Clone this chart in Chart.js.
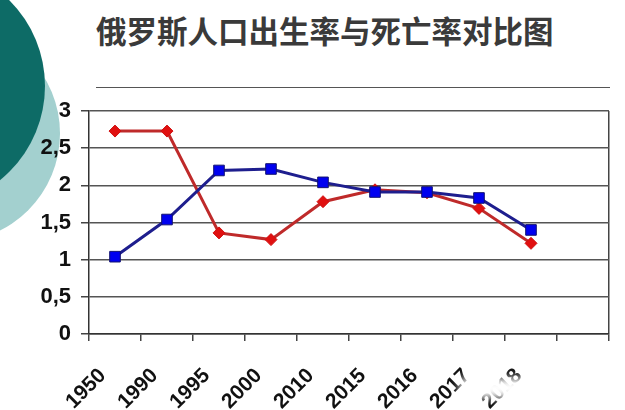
<!DOCTYPE html>
<html>
<head>
<meta charset="utf-8">
<script src="https://cdn.jsdelivr.net/npm/chart.js@4"></script>
<style>
  html, body { margin: 0; padding: 0; background: #fff; }
  #wrap { position: relative; width: 625px; height: 410px; overflow: hidden; }
  .circle { position: absolute; border-radius: 50%; }
  #light { left: -157px; top: 25px; width: 217px; height: 217px; background: #a3d0cf; }
  #dark { left: -197px; top: -35px; width: 242px; height: 242px; background: #0d6b66; }
  #title { position: absolute; left: 96px; top: 15px; font: bold 30.5px "Noto Sans CJK SC"; line-height: 1; color: #3a3a3a; white-space: nowrap; }
  #rule { position: absolute; left: 96px; top: 87px; width: 514px; height: 0; border-top: 1.5px solid #555; }
  #chart { position: absolute; left: 0; top: 0; }
  #mark { position: absolute; left: 460px; top: 378px; width: 68px; height: 20px; background: #fff; filter: blur(4px); }
</style>
</head>
<body>
<div id="wrap">
  <div class="circle" id="light"></div>
  <div class="circle" id="dark"></div>
  <div id="title">俄罗斯人口出生率与死亡率对比图</div>
  <div id="rule"></div>
  <canvas id="chart" width="625" height="410"></canvas>
  <div id="mark"></div>
</div>
<script>
const years = ["1950", "1990", "1995", "2000", "2010", "2015", "2016", "2017", "2018", ""];
const birthRate = [2.73, 2.73, 1.36, 1.27, 1.78, 1.94, 1.90, 1.69, 1.22];
const deathRate = [1.04, 1.54, 2.20, 2.22, 2.04, 1.91, 1.91, 1.83, 1.40];

const tickFont = { family: '"Liberation Sans", Arial, sans-serif', weight: "bold" };

new Chart(document.getElementById("chart"), {
  type: "line",
  data: {
    labels: years,
    datasets: [
      {
        label: "死亡率",
        data: deathRate,
        borderColor: "#1e1e8e",
        borderWidth: 3,
        pointStyle: "rect",
        pointRadius: 7.5,
        pointBackgroundColor: "#0000f0",
        pointBorderColor: "#121270",
        pointBorderWidth: 1,
        tension: 0
      },
      {
        label: "出生率",
        data: birthRate,
        borderColor: "#bf2a2a",
        borderWidth: 3,
        pointStyle: "rectRot",
        pointRadius: 6,
        pointBackgroundColor: "#e01010",
        pointBorderColor: "#d01010",
        pointBorderWidth: 1,
        tension: 0
      }
    ]
  },
  options: {
    responsive: false,
    animation: false,
    layout: { padding: { top: 111, right: 16, left: 0, bottom: 0 } },
    plugins: {
      legend: { display: false },
      tooltip: { enabled: false }
    },
    scales: {
      x: {
        offset: true,
        grid: {
          offset: true,
          color: (ctx) => ctx.type === "scale" ? "#444" : "rgba(0,0,0,0)",
          tickColor: "#444",
          tickLength: 7,
          lineWidth: 1.5
        },
        border: { color: "#333", width: 1.5 },
        ticks: {
          // trailing spaces push the rotated labels down-left like the original
          callback: (v, i) => years[i] ? years[i] + "   " : "",
          font: { ...tickFont, size: 21 },
          color: "#111",
          minRotation: 45,
          maxRotation: 45,
          padding: 10,
          autoSkip: false
        },
        afterFit: (scale) => { scale.height = 76; }
      },
      y: {
        min: 0,
        max: 3,
        ticks: {
          stepSize: 0.5,
          callback: (v) => String(v).replace(".", ","),
          font: { ...tickFont, size: 22 },
          color: "#111",
          padding: 10
        },
        grid: { color: "#555", lineWidth: 1.5, tickLength: 8, tickColor: "#444" },
        border: { color: "#333", width: 1.5 },
        afterFit: (scale) => { scale.width = 89; }
      }
    }
  }
});
</script>
</body>
</html>
